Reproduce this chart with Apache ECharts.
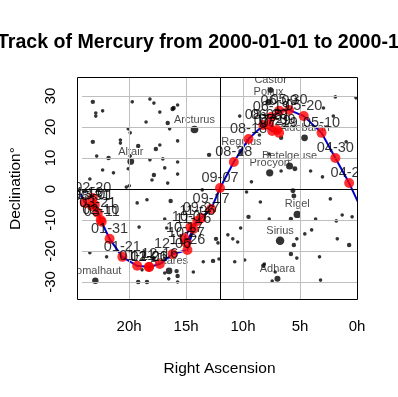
<!DOCTYPE html>
<html>
<head>
<meta charset="utf-8">
<script src="https://cdn.jsdelivr.net/npm/echarts@6/dist/echarts.min.js"></script>
<style>
  html, body { margin: 0; padding: 0; background: #fff; }
  #chart { width: 398px; height: 397px; }
</style>
</head>
<body>
<div id="chart"></div>
<script>
// Mercury track, one point every 10 days
const trackDates = ['01-01','01-11','01-21','01-31','02-10','02-20','03-01','03-11','03-21','03-31','04-10',
  '04-20','04-30','05-10','05-20','05-30','06-09','06-19','06-29','07-09','07-19','07-29','08-08','08-18','08-28',
  '09-07','09-17','09-27','10-07','10-17','10-27','11-06','11-16','11-26','12-06','12-16','12-26']
const trackRA = [18.25,19.29,20.59,21.71,22.49,23.18,23.01,22.40,22.75,23.27,23.88,
  0.69,1.90,3.11,4.67,5.97,6.83,7.53,7.70,7.01,6.83,7.44,8.22,9.52,10.81,
  12.02,12.80,13.67,14.62,15.14,14.97,14.01,14.36,14.88,16.18,17.30,18.25]
const trackDec = [-25.2,-24.8,-21.9,-16.1,-10.0,-2.9,-5.2,-10.6,-7.7,-5.5,-4.5,
  1.9,10.0,18.1,23.5,25.5,25.2,23.2,20.6,19.0,18.1,18.7,20.6,16.1,8.7,
  0.3,-6.5,-9.4,-12.3,-15.8,-17.4,-10.3,-12.9,-19.7,-21.0,-24.2,-25.2]

// named bright stars
const starNames = ['Sirius','Arcturus','Altair','Fomalhaut','Antares','Castor','Pollux','Aldebaran','Regulus','Betelgeuse','Procyon','Rigel','Adhara']
const namedRA = [6.75,14.26,19.85,22.96,16.49,7.58,7.76,4.60,10.14,5.92,7.66,5.24,6.98]
const namedDec = [-16.72,19.18,8.87,-29.62,-26.43,31.89,28.03,16.51,11.97,7.41,5.22,-8.20,-28.97]
const namedMag = [-1.46,-0.05,0.77,1.16,1.0,1.58,1.14,0.85,1.35,0.5,0.34,0.13,1.5]

// other stars
const starRA = [23.18,22.92,22.92,22.32,19.72,18.17,17.82,17.30,16.18,16.61,18.51,16.44,20.07,19.90,23.18,20.76,20.76,19.20,17.65,17.30,
  22.84,21.80,19.90,18.17,17.04,22.32,21.37,20.07,17.82,16.87,17.99,23.44,16.61,19.98,15.74,16.09,15.74,15.74,15.74,12.98,
  10.29,13.58,1.90,0.09,2.08,0.95,6.66,8.56,2.94,7.70,6.66,5.45,4.07,3.03,9.26,5.62,5.54,9.69,8.48,9.52,
  10.21,11.33,10.90,10.47,12.37,12.20,13.49,12.63,12.11,15.83,15.74,15.74,14.36,16.35,2.34,7.70,5.80,3.63,1.82,1.30,
  0.43,3.98,4.58,5.54,5.28,1.73,0.69,5.80,5.28,3.29,8.22,7.18,7.44,3.20,19.20,18.43,18.86,18.25,19.29,18.43,
  20.24,16.87,16.70,19.12,23.44,21.97,17.82,16.87,16.52,10.73,9.86,8.13]
const starDec = [28.1,24.5,23.5,25.2,28.1,29.0,27.7,24.8,25.8,21.3,21.6,19.4,19.4,18.1,15.2,15.8,14.8,13.9,12.9,14.2,
  10.6,10.0,10.6,9.4,9.7,6.1,5.2,6.5,4.5,6.8,2.9,3.2,1.9,1.0,27.1,26.1,15.5,8.7,4.8,11.0,
  23.5,-0.3,29.7,29.4,23.5,15.2,16.5,17.4,26.1,11.3,5.8,6.5,5.8,3.9,2.3,-0.6,-2.3,-1.0,-4.2,-9.0,
  -12.6,-14.8,-16.1,-17.1,-16.1,-17.4,-23.5,-23.2,-22.6,-26.5,-28.1,-30.0,-26.8,-3.9,-3.2,-9.7,-9.7,-9.7,-10.3,-8.4,
  -9.0,-13.2,-14.5,-18.1,-16.1,-16.1,-18.1,-21.0,-22.3,-21.9,-24.8,-26.8,-29.7,-29.4,-30.0,-30.0,-26.1,-25.8,-4.5,-3.5,
  0.6,-9.7,-12.6,-12.3,-20.6,-21.9,-22.3,-27.1,-29.0,-23.5,-22.9,-24.2]
const starMag = [3,4,4,4,4,4,4,4,3,3,4,4,4,4,3,4,4,3,3,4,
  4,3,4,4,4,4,4,4,3,4,4,4,4,4,4,3,4,4,4,3,
  4,4,4,4,4,4,3,4,4,4,4,2.5,4,4,4,2.5,2.5,4,4,3,
  4,4,4,4,3,4,4,3,4,3,3,4,4,3,4,4,3,4,4,4,
  4,4,4,3,4,4,3,3,4,4,3,4,4,4,3,3,4,4,4,4,
  4,4,4,4,4,4,4,4,4,4,4,4]

const raTicks = [0, 5, 10, 15, 20]
const decTicks = [-30, -20, -10, 10, 20, 30]

const FONT = 'Liberation Sans, Arial, sans-serif'
const magSize = m => Math.max(3.6, Math.min(8.5, 7.6 - 1.05 * m))

// unwrap RA so the track can leave one side and come back on the other
const unwrapped = []
let off = 0
trackRA.forEach((r, i) => {
  if (i > 0 && r - trackRA[i - 1] < -12) off += 24
  unwrapped.push(r + off)
})
const lineA = unwrapped.map((r, i) => [r, trackDec[i]])
const lineB = unwrapped.map((r, i) => [r - 24, trackDec[i]])

const chart = echarts.init(document.getElementById('chart'))
const grayLine = { color: '#bebebe', width: 1, type: 'solid' }

chart.setOption({
  animation: false,
  grid: { left: 78, top: 78, width: 279, height: 221, show: false },
  xAxis: {
    type: 'value', min: 0, max: 24.13, interval: 5, inverse: true,
    axisLine: { show: false }, axisTick: { show: false }, splitLine: { show: false },
    axisLabel: { showMaxLabel: false, formatter: v => v + 'h', color: '#000', fontSize: 15, fontFamily: FONT, margin: 20 },
    name: 'Right Ascension', nameLocation: 'middle', nameGap: 62,
    nameTextStyle: { color: '#000', fontSize: 15.5, fontFamily: FONT }
  },
  yAxis: {
    type: 'value', min: -35.5, max: 35.8,
    axisLine: { show: false }, axisTick: { show: false }, splitLine: { show: false },
    axisLabel: { customValues: [-30, -20, -10, 0, 10, 20, 30], rotate: 90, color: '#000', fontSize: 15, fontFamily: FONT, margin: 24 },
    name: 'Declination°', nameLocation: 'middle', nameGap: 58,
    nameTextStyle: { color: '#000', fontSize: 15.5, fontFamily: FONT }
  },
  graphic: [
    { type: 'text', x: 217.5, y: 43, z: 200,
      style: { text: 'Track of Mercury from 2000-01-01 to 2000-12-31', font: 'bold 19.6px ' + FONT, fill: '#000', textAlign: 'center', textVerticalAlign: 'middle' } },
    // clip labels to the plot region
    { type: 'rect', z: 100, shape: { x: 56, y: 60, width: 21.5, height: 250 }, style: { fill: '#fff' } },
    { type: 'rect', z: 100, shape: { x: 357.5, y: 60, width: 41, height: 250 }, style: { fill: '#fff' } },
    { type: 'rect', z: 100, shape: { x: 56, y: 56, width: 342, height: 21.5 }, style: { fill: '#fff' } },
    { type: 'rect', z: 100, shape: { x: 56, y: 299.5, width: 342, height: 15 }, style: { fill: '#fff' } },
    { type: 'rect', z: 101, shape: { x: 77.5, y: 77.5, width: 280, height: 222 }, style: { fill: 'none', stroke: '#000', lineWidth: 1 } }
  ],
  series: [
    {
      type: 'line', data: [], z: 1, silent: true,
      markLine: {
        silent: true, symbol: 'none', label: { show: false }, animation: false,
        data: [
          ...raTicks.filter(v => v > 0).map(v => ({ xAxis: v, lineStyle: grayLine })),
          ...decTicks.map(v => ({ yAxis: v, lineStyle: grayLine })),
          { xAxis: 12, lineStyle: { color: '#000', width: 1, type: 'solid' } },
          { yAxis: 0, lineStyle: { color: '#000', width: 1, type: 'solid' } }
        ]
      }
    },
    {
      type: 'scatter', z: 3, silent: true,
      data: starRA.map((r, i) => ({ value: [r, starDec[i]], symbolSize: magSize(starMag[i]) })),
      itemStyle: { color: '#000' }
    },
    {
      type: 'scatter', z: 3, silent: true,
      data: starNames.map((n, i) => ({ name: n, value: [namedRA[i], namedDec[i]], symbolSize: magSize(namedMag[i]) })),
      itemStyle: { color: '#000' },
      label: { show: true, formatter: p => p.name, position: 'inside', offset: [0, -10], color: '#1a1a1a', fontSize: 11, fontFamily: FONT }
    },
    { type: 'line', z: 4, data: lineA, showSymbol: false, clip: true, lineStyle: { color: '#0000cd', width: 2 } },
    { type: 'line', z: 4, data: lineB, showSymbol: false, clip: true, lineStyle: { color: '#0000cd', width: 2 } },
    {
      type: 'scatter', z: 5, silent: true, symbolSize: 10,
      data: trackDates.map((d, i) => ({ name: d, value: [trackRA[i], trackDec[i]] })),
      itemStyle: { color: '#ff0000' },
      label: { show: true, formatter: p => p.name, position: 'inside', offset: [0, -10], color: '#000', fontSize: 14.5, fontFamily: FONT }
    }
  ]
})
</script>
</body>
</html>
